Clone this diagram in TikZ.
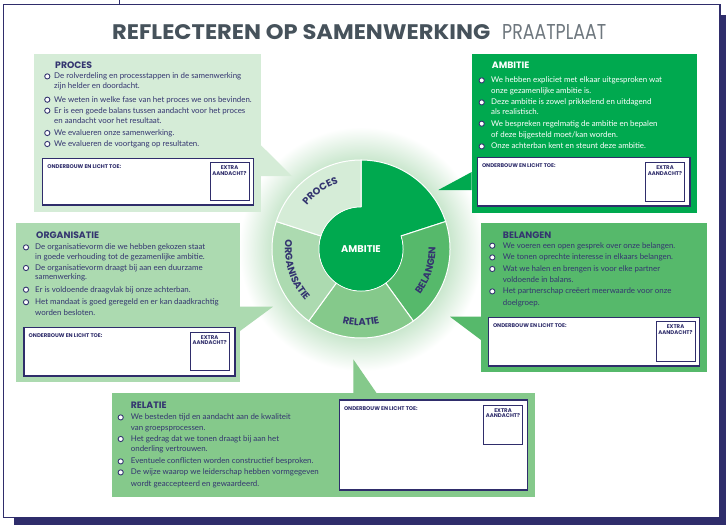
\documentclass[tikz,border=0pt]{standalone}
\usepackage{fontspec}
\usepackage{graphicx}
\setmainfont{Poppins}
\newfontfamily\latofont{Lato}
\usetikzlibrary{decorations.text}
\definecolor{navy}{HTML}{2F2D6B}
\definecolor{txt}{HTML}{343570}
\definecolor{ttl}{HTML}{46525B}
\definecolor{ttlb}{HTML}{6E777E}
\definecolor{cP}{HTML}{D5ECD7}
\definecolor{cA}{HTML}{00A94F}
\definecolor{cO}{HTML}{ACDAB0}
\definecolor{cB}{HTML}{56B96B}
\definecolor{cR}{HTML}{85C98B}
\definecolor{glowc}{HTML}{C8E6CC}
\pgfdeclareradialshading{glow}{\pgfpoint{0bp}{0bp}}{color(0bp)=(glowc); color(18bp)=(glowc); color(25bp)=(white); color(50bp)=(white)}
\newcommand\bodyfont{\latofont\fontsize{7.9}{9}\selectfont}
\newcommand\headfont{\fontsize{9.3}{10}\selectfont\bfseries}
\newcommand\tinyfont{\fontsize{5.4}{6}\selectfont\bfseries}
\newcommand\secfont{\fontsize{9.8}{10}\selectfont\bfseries}
\def\bodycol{txt}
\tikzset{
  body/.style={anchor=base west, inner sep=0pt, font=\bodyfont, text=\bodycol},
  head/.style={anchor=base west, inner sep=0pt, font=\headfont, text=\bodycol},
  bul/.style={circle, draw=txt, fill=white, line width=0.9pt, inner sep=0pt, minimum size=5.2pt},
  inbox/.style={draw=navy, fill=white, line width=1.1pt},
  exbox/.style={draw=navy, fill=white, line width=1pt},
  tinytxt/.style={inner sep=0pt, font=\tinyfont, text=navy},
  seclab/.style={decorate, decoration={text along path, text align=center, text color=txt}},
}
\newcommand\bl[5]{\node[bul] (#1b) at (#2,{#4-2.3}) {}; \node[body] (#1) at (#3,#4) {#5};}
\newcommand\cl[4]{\node[body] (#1) at (#2,#3) {#4};}
\newcommand\notebox[9]{%
  \draw[inbox] (#2,#3) rectangle (#4,#5);
  \draw[exbox] (#6,#7) rectangle (#8,#9);
  \node[tinytxt, anchor=base west] (#1l) at ({#2+4.5},{#3+10}) {ONDERBOUW EN LICHT TOE:};
  \node[tinytxt, anchor=base] (#1e) at ({(#6+#8)/2},{#7+7}) {EXTRA};
  \node[tinytxt, anchor=base] (#1a) at ({(#6+#8)/2},{#7+12.3}) {AANDACHT?};
}
\newcommand\sect[3]{\fill[#1, draw=white, line width=1pt] (#2:89) arc[start angle=#2, end angle=#3, radius=89] -- (#3:42) arc[start angle=#3, end angle=#2, radius=42] -- cycle;}
\begin{document}
\begin{tikzpicture}[x=1pt,y=-1pt]
\useasboundingbox (0,0) rectangle (726,525);
% frame
\fill[navy] (14,15) rectangle (726,525);
\draw[navy, line width=1.2pt, fill=white] (3.7,4.7) rectangle (720,517.7);
\draw[navy, line width=1.5pt] (119.4,0) -- (119.4,4.7);
% title
\node[anchor=base west, inner sep=0pt, text=ttl] (title) at (112,39) {\resizebox{378pt}{15pt}{\bfseries REFLECTEREN OP SAMENWERKING}};
\node[anchor=base west, inner sep=0pt, text=ttlb] (sub) at (502,39) {\resizebox{104pt}{15pt}{PRAATPLAAT}};
% glow
\shade[shading=glow] (361,249) circle (122);
% boxes and pointers
\fill[cP] (34,54) rectangle (260.7,212);
\fill[cP] (260.7,145) -- (292,176) -- (260.7,176) -- cycle;
\fill[cA] (471.7,54) rectangle (697.3,213.3);
\fill[cA] (471.7,172) -- (438.3,190) -- (471.7,190) -- cycle;
\fill[cO] (16,223.3) rectangle (240,382);
\fill[cO] (240,306.7) -- (273,306.7) -- (240,331) -- cycle;
\fill[cB] (481,222.7) rectangle (706.7,372);
\fill[cB] (481,316.7) -- (450,316.7) -- (481,340) -- cycle;
\fill[cR] (111.7,393.3) rectangle (535,496.7);
\fill[cR] (353.3,393.3) -- (353.3,359.3) -- (376.7,393.3) -- cycle;
% note boxes
\notebox{p}{42.7}{158.3}{253.3}{205}{210}{162.7}{249}{200}
\notebox{a}{477.3}{157.7}{690}{206}{645.7}{162.7}{684.3}{201}
\notebox{o}{24}{327.5}{235}{376}{190}{332.3}{229.3}{370.7}
\notebox{b}{488.3}{317.7}{699.3}{366}{656}{321.7}{695}{361.7}
\notebox{r}{339.3}{400}{527.7}{490}{483.3}{405}{522.7}{444.3}
% PROCES text
\node[head] (ph) at (55,68) {PROCES};
\bl{p1}{47.3}{54}{78.7}{De rolverdeling en processtappen in de samenwerking}
\cl{p2}{54}{88.7}{zijn helder en doordacht.}
\bl{p3}{47.3}{54}{102}{We weten in welke fase van het proces we ons bevinden.}
\bl{p4}{47.3}{54}{113}{Er is een goede balans tussen aandacht voor het proces}
\cl{p5}{54}{123}{en aandacht voor het resultaat.}
\bl{p6}{47.3}{54}{135.3}{We evalueren onze samenwerking.}
\bl{p7}{47.3}{54}{146.3}{We evalueren de voortgang op resultaten.}
% AMBITIE text
\begin{scope}
\def\bodycol{white}
\node[head] (ah) at (491.7,68) {AMBITIE};
\bl{a1}{481.7}{491}{82.7}{We hebben expliciet met elkaar uitgesproken wat}
\cl{a2}{491}{93.7}{onze gezamenlijke ambitie is.}
\bl{a3}{481.7}{491}{104.7}{Deze ambitie is zowel prikkelend en uitdagend}
\cl{a4}{491}{114.7}{als realistisch.}
\bl{a5}{481.7}{491}{126}{We bespreken regelmatig de ambitie en bepalen}
\cl{a6}{491}{137}{of deze bijgesteld moet/kan worden.}
\bl{a7}{481.7}{491}{148.7}{Onze achterban kent en steunt deze ambitie.}
\end{scope}
% ORGANISATIE text
\node[head] (oh) at (36,238) {ORGANISATIE};
\bl{o1}{26}{35}{249.7}{De organisatievorm die we hebben gekozen staat}
\cl{o2}{35}{259.7}{in goede verhouding tot de gezamenlijke ambitie.}
\bl{o3}{26}{35}{270.3}{De organisatievorm draagt bij aan een duurzame}
\cl{o4}{35}{279.7}{samenwerking.}
\bl{o5}{26}{35}{292}{Er is voldoende draagvlak bij onze achterban.}
\bl{o6}{26}{35}{304.5}{Het mandaat is goed geregeld en er kan daadkrachtig}
\cl{o7}{35}{315}{worden besloten.}
% BELANGEN text
\node[head] (bh) at (502.7,238) {BELANGEN};
\bl{b1}{492.3}{502.7}{248}{We voeren een open gesprek over onze belangen.}
\bl{b2}{492.3}{502.7}{259.7}{We tonen oprechte interesse in elkaars belangen.}
\bl{b3}{492.3}{502.7}{271.3}{Wat we halen en brengen is voor elke partner}
\cl{b4}{502.7}{282}{voldoende in balans.}
\bl{b5}{492.3}{502.7}{293.7}{Het partnerschap creëert meerwaarde voor onze}
\cl{b6}{502.7}{305.3}{doelgroep.}
% RELATIE text
\node[head] (rh) at (130.7,408.7) {RELATIE};
\bl{r1}{120.7}{130.7}{419.7}{We besteden tijd en aandacht aan de kwaliteit}
\cl{r2}{130.7}{430.3}{van groepsprocessen.}
\bl{r3}{120.7}{130.7}{441.3}{Het gedrag dat we tonen draagt bij aan het}
\cl{r4}{130.7}{451.3}{onderling vertrouwen.}
\bl{r5}{120.7}{130.7}{463.7}{Eventuele conflicten worden constructief besproken.}
\bl{r6}{120.7}{130.7}{474.7}{De wijze waarop we leiderschap hebben vormgegeven}
\cl{r7}{130.7}{486}{wordt geaccepteerd en gewaardeerd.}
% wheel
\begin{scope}[shift={(361,249)}]
\fill[cA, draw=white, line width=1pt] (0,0) -- (-90:89) arc[start angle=-90, end angle=-18, radius=89] -- cycle;
\fill[cA] (0,0) circle (42);
\sect{cB}{-18}{54}
\sect{cR}{54}{126}
\sect{cO}{126}{198}
\sect{cP}{198}{270}
\fill[cA] (0,0) circle (41.5);
\fill[cA] (0,0) -- (-89.5:41.5) arc[start angle=-89.5, end angle=-18.5, radius=41.5] -- cycle;
\node[font=\secfont, text=white, inner sep=0pt] (amb) at (0,0) {AMBITIE};
\path[seclab, decoration={text={|\secfont|PROCES}}] (-162:69.5) arc[start angle=-162, end angle=-88, radius=69.5];
\path[seclab, decoration={text={|\secfont|ORGANISATIE}}] (198:76) arc[start angle=198, end angle=126, radius=76];
\path[seclab, decoration={text={|\secfont|BELANGEN}}] (54:74.5) arc[start angle=54, end angle=-18, radius=74.5];
\path[seclab, decoration={text={|\secfont|RELATIE}}] (126:76.5) arc[start angle=126, end angle=54, radius=76.5];
\end{scope}
\end{tikzpicture}
\end{document}
